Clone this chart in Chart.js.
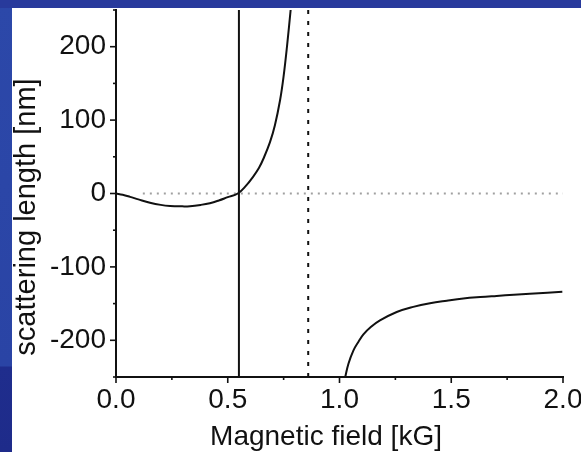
<!DOCTYPE html>
<html>
<head>
<meta charset="utf-8">
<script src="https://cdn.jsdelivr.net/npm/chart.js@4/dist/chart.umd.min.js"></script>
<style>
  html, body { margin: 0; padding: 0; }
  body {
    width: 581px; height: 452px; overflow: hidden; position: relative;
    background: linear-gradient(180deg, #2c48a9 0px, #2a44a5 366px, #1f2d8d 367px, #1e2b8a 452px);
  }
  #topband { position: absolute; left: 0; top: 0; width: 581px; height: 8px; background: #283a9c; }
  #panel { position: absolute; left: 12px; top: 8px; width: 569px; height: 444px; background: #fff; }
</style>
</head>
<body>
<div id="topband"></div>
<div id="panel"><canvas id="chart" width="569" height="444"></canvas></div>
<script>
// values (field in kG, length in nm)
const branchLowField  = [0, 0.03, 0.063, 0.1, 0.152, 0.2, 0.242, 0.29, 0.331, 0.38, 0.42, 0.46, 0.5, 0.545,
                         0.58, 0.614, 0.64, 0.659, 0.689, 0.711, 0.734, 0.75, 0.765, 0.782];
const branchLowLength = [0, -1.8, -4.6, -8, -12.5, -15.5, -17, -17.5, -17.3, -15.5, -13.2, -9.5, -5, 0,
                         10, 23, 35, 47, 70, 93, 127, 160, 200, 252];
const branchHighField  = [1.025, 1.04, 1.062, 1.085, 1.107, 1.14, 1.181, 1.256, 1.33, 1.405, 1.48,
                          1.554, 1.63, 1.703, 1.78, 1.852, 1.93, 1.997];
const branchHighLength = [-251, -232, -214, -202, -192, -182, -173, -161.5, -154.5, -149.5, -146,
                          -143, -141, -139.5, -138, -136.5, -135.2, -134];

const zeroCrossField = 0.55;   // solid vertical line
const resonanceField = 0.86;   // dotted vertical line
const zeroLineField = [0.12, 2.0];

const xTicks = [0, 0.5, 1.0, 1.5, 2.0];
const xMinorTicks = [0.25, 0.75, 1.25, 1.75];
const yTicks = [-200, -100, 0, 100, 200];
const yMinorTicks = [-250, -150, -50, 50, 150, 250];

const xTitle = 'Magnetic field [kG]';
const yTitle = 'scattering length [nm]';

const FONT = '"Liberation Sans", Arial, sans-serif';

function toPoints(xs, ys) {
    return xs.map((x, i) => ({ x: x, y: ys[i] }));
}

// tick marks (major longer than minor) and axis titles
const axisDecor = {
    id: 'axisDecor',
    afterDraw(chart) {
        const { ctx, chartArea: a, scales: { x, y } } = chart;
        ctx.save();
        ctx.strokeStyle = '#111';
        ctx.lineWidth = 1.6;
        const mark = (px, py, dx, dy) => {
            ctx.beginPath();
            ctx.moveTo(px, py);
            ctx.lineTo(px + dx, py + dy);
            ctx.stroke();
        };
        xTicks.forEach(v => mark(x.getPixelForValue(v), a.bottom, 0, 6));
        xMinorTicks.forEach(v => mark(x.getPixelForValue(v), a.bottom, 0, 3));
        yTicks.forEach(v => mark(a.left, y.getPixelForValue(v), -6, 0));
        yMinorTicks.forEach(v => mark(a.left, y.getPixelForValue(v), -3, 0));

        ctx.fillStyle = '#111';
        ctx.font = '28px ' + FONT;
        ctx.textAlign = 'center';
        ctx.textBaseline = 'alphabetic';
        ctx.fillText(xTitle, 314, 437);

        ctx.translate(23, 209);
        ctx.rotate(-Math.PI / 2);
        ctx.font = '29px ' + FONT;
        ctx.fillText(yTitle, 0, 0);
        ctx.restore();
    }
};

new Chart(document.getElementById('chart'), {
    type: 'scatter',
    data: {
        datasets: [
            {
                data: toPoints(branchLowField, branchLowLength),
                showLine: true, borderColor: '#111', borderWidth: 2,
                pointRadius: 0, tension: 0.4
            },
            {
                data: toPoints(branchHighField, branchHighLength),
                showLine: true, borderColor: '#111', borderWidth: 2,
                pointRadius: 0, tension: 0.4
            },
            {
                data: [{ x: zeroCrossField, y: -250 }, { x: zeroCrossField, y: 250 }],
                showLine: true, borderColor: '#111', borderWidth: 2, pointRadius: 0
            },
            {
                data: [{ x: resonanceField, y: -250 }, { x: resonanceField, y: 250 }],
                showLine: true, borderColor: '#111', borderWidth: 2, pointRadius: 0,
                borderDash: [4, 7]
            },
            {
                data: [{ x: zeroLineField[0], y: 0 }, { x: zeroLineField[1], y: 0 }],
                showLine: true, borderColor: '#a0a0a0', borderWidth: 2, pointRadius: 0,
                borderDash: [2, 5]
            }
        ]
    },
    options: {
        responsive: false,
        animation: false,
        layout: { padding: { top: 2, right: 18, left: 0, bottom: 0 } },
        plugins: { legend: { display: false }, tooltip: { enabled: false } },
        scales: {
            x: {
                type: 'linear', min: 0, max: 2,
                afterBuildTicks: s => { s.ticks = xTicks.map(v => ({ value: v })); },
                afterFit: s => { s.height = 75; s.paddingLeft = 0; s.paddingRight = 0; },
                ticks: {
                    callback: v => v.toFixed(1),
                    font: { family: FONT, size: 28 }, color: '#111',
                    padding: 0, maxRotation: 0, autoSkip: false
                },
                grid: { drawOnChartArea: false, drawTicks: true, tickLength: 6, color: 'rgba(0,0,0,0)' },
                border: { display: true, color: '#111', width: 2 }
            },
            y: {
                type: 'linear', min: -250, max: 250,
                afterBuildTicks: s => { s.ticks = yTicks.map(v => ({ value: v })); },
                afterFit: s => { s.width = 104; s.paddingTop = 0; s.paddingBottom = 0; },
                ticks: {
                    callback: v => String(v),
                    font: { family: FONT, size: 28 }, color: '#111',
                    padding: 4, autoSkip: false
                },
                grid: { drawOnChartArea: false, drawTicks: true, tickLength: 6, color: 'rgba(0,0,0,0)' },
                border: { display: true, color: '#111', width: 2 }
            }
        }
    },
    plugins: [axisDecor]
});
</script>
</body>
</html>
